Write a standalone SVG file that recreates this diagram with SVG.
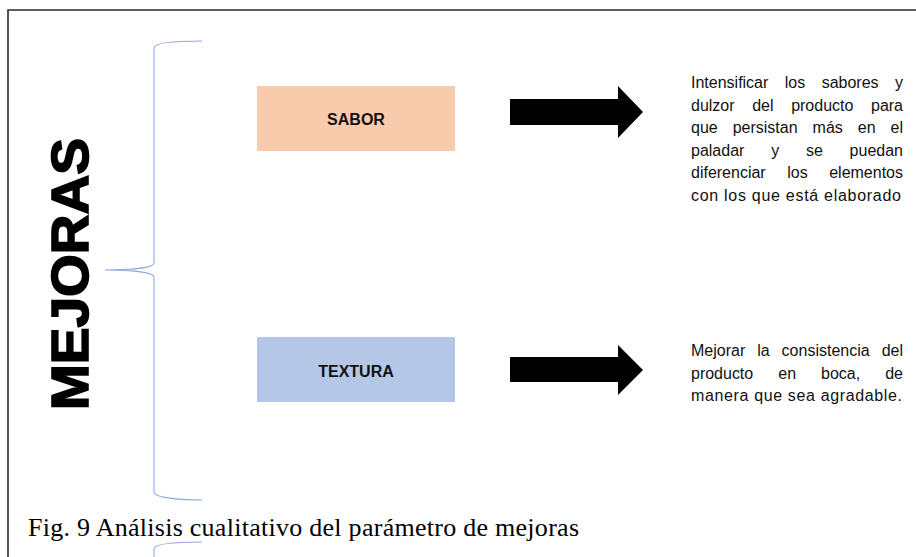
<svg xmlns="http://www.w3.org/2000/svg" width="916" height="557" viewBox="0 0 916 557">
<style>
.frame{fill:none;stroke:#2a2a2a;stroke-width:1.6}
.brace{fill:none;stroke:#8FAADC;stroke-width:1.1}
.lbl{font-family:"Liberation Sans",Arial,sans-serif;font-weight:bold;font-size:16px;fill:#111;text-anchor:middle}
.desc{font-family:"Liberation Sans",Arial,sans-serif;font-size:16px;fill:#111}
.arrow{fill:#000}
</style>
<rect width="916" height="557" fill="#fff"/>
<path class="frame" d="M916,10 L8,10 L8,557"/>
<g id="title">
<text transform="translate(88,274) rotate(-90)" font-family="'Liberation Sans',Arial,sans-serif" font-weight="bold" font-size="51" text-anchor="middle" textLength="272" lengthAdjust="spacingAndGlyphs" fill="#000" stroke="#000" stroke-width="1.6">MEJORAS</text>
</g>
<g id="brace">
<path class="brace" d="M202,41 C175,41 154,43 154,48 L154,263 C154,268 130,270 105,270 C130,270 154,272 154,277 L154,492 C154,497 175,500 202,500"/>
<path class="brace" d="M202,542 C175,542 154,544 154,549 L154,557"/>
</g>
<g id="sabor">
<rect x="257" y="86" width="198" height="65" fill="#F8CBAD"/>
<text class="lbl" x="356" y="125">SABOR</text>
</g>
<g id="textura">
<rect x="257" y="337" width="198" height="65" fill="#B4C7E7"/>
<text class="lbl" x="356" y="377">TEXTURA</text>
</g>
<g id="connectors">
<polygon class="arrow" points="510,99 618,99 618,86 643,112 618,138 618,125 510,125"/>
<polygon class="arrow" points="510,357 618,357 618,345 643,370 618,395 618,382 510,382"/>
</g>
<g id="desc-sabor" class="desc">
<text x="691" y="88" word-spacing="12" textLength="212" lengthAdjust="spacing">Intensificar los sabores y</text>
<text x="691" y="110.5" word-spacing="13.2" textLength="212" lengthAdjust="spacing">dulzor del producto para</text>
<text x="691" y="133" word-spacing="10.5" textLength="212" lengthAdjust="spacing">que persistan más en el</text>
<text x="691" y="155.5" word-spacing="22.3" textLength="212" lengthAdjust="spacing">paladar y se puedan</text>
<text x="691" y="178" word-spacing="17.1" textLength="212" lengthAdjust="spacing">diferenciar los elementos</text>
<text x="691" y="200.5" textLength="210" lengthAdjust="spacing">con los que está elaborado</text>
</g>
<g id="desc-textura" class="desc">
<text x="691" y="356" word-spacing="7.5" textLength="212" lengthAdjust="spacing">Mejorar la consistencia del</text>
<text x="691" y="378.5" word-spacing="20.6" textLength="212" lengthAdjust="spacing">producto en boca, de</text>
<text x="691" y="401" textLength="211" lengthAdjust="spacing">manera que sea agradable.</text>
</g>
<g id="caption">
<text x="28" y="536" font-family="'Liberation Serif','Times New Roman',serif" font-size="26" textLength="551" lengthAdjust="spacing" fill="#000">Fig. 9 Análisis cualitativo del parámetro de mejoras</text>
</g>
</svg>
